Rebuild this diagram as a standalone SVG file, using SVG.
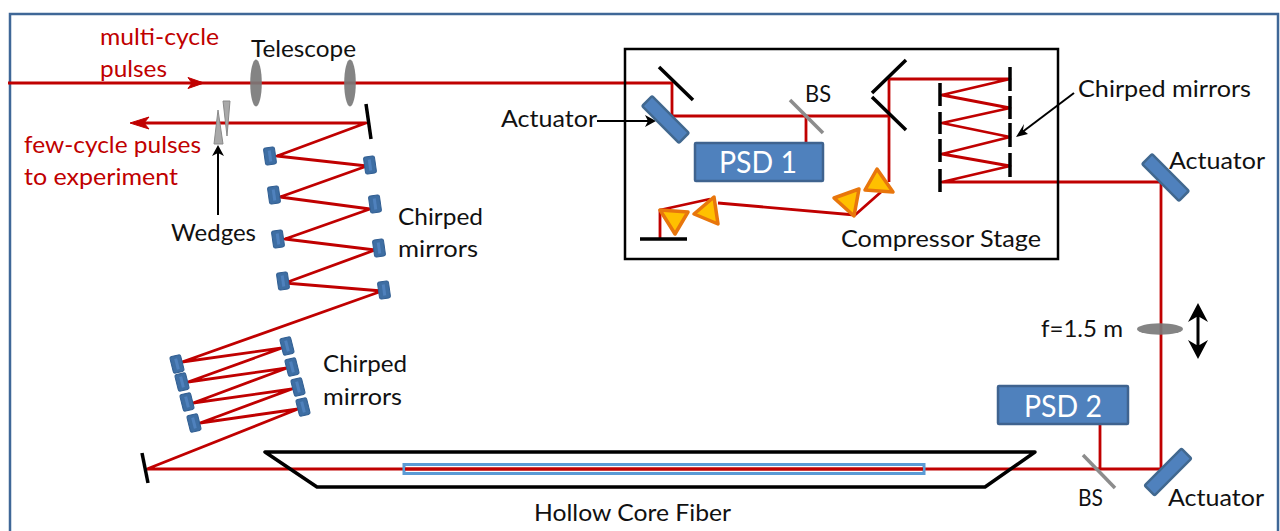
<svg xmlns="http://www.w3.org/2000/svg" width="1280" height="531" viewBox="0 0 1280 531">
<style>
text{font-family:"Lato","Open Sans",sans-serif;font-size:24px;fill:#111}
.r{fill:#c00000}
.w{fill:#fff;font-size:31px}
.beam{fill:none;stroke:#c00000;stroke-width:2.800;stroke-linejoin:round}
.blk{stroke:#000;stroke-width:3.500;fill:none}
.thin{stroke:#000;stroke-width:2;fill:none}
.cm{fill:#3e6ea3;stroke:#2f5d91;stroke-width:1}
.cmi{fill:#4f81bd}
.act{fill:#4f81bd;stroke:#41688f;stroke-width:2.500}
.psd{fill:#4f81bd;stroke:#3f638f;stroke-width:2.500}
.lens{fill:#7a7a7a;fill-opacity:.92}
.pr{fill:#ffc000;stroke:#e8760c;stroke-width:3.500;stroke-linejoin:round}
.wedge{fill:#a9a9a9;stroke:#8a8a8a;stroke-width:1}
.bs{stroke:#8c8c8c;stroke-width:3.500}
</style>
<defs>
<g id="m"><rect class="cm" x="-5.500" y="-8.500" width="11" height="17" rx="2"/><rect class="cmi" x="-1.500" y="-5.500" width="3" height="11"/></g>
</defs>
<rect id="frame" x="10" y="14" width="1268" height="530" fill="#fff" stroke="#3f6797" stroke-width="2.500"/>
<g id="connectors">
<path class="beam" d="M8 83H672V116H889M806 116V143M889 182V79H1010L942 95L1010 108L942 123L1010 137L942 154L1010 166L942 182H1161V469H147L298 409L200 423L292 389L193 403L287 368L188 382L282 348L182 362L382 291L285 283L375 250L285 239L370 209L280 197L367 166L277 156L366 123H140"/>
<path class="beam" d="M881 192L855 215L718 203M710 199L660 210V238M1100 424V469"/>
<path d="M204 83L188 77.500L192 83L188 88.500Z" fill="#c00000" stroke="#c00000"/>
<path d="M130 123L149 117L144 123L149 129Z" fill="#c00000" stroke="#c00000"/>
<path class="thin" d="M218 215V150"/><path d="M218 145L212 156L218 153L224 156Z"/>
<path class="thin" d="M597 121H650"/><path d="M656 121L645 115L648 121L645 127Z"/>
<path class="thin" d="M1074 93L1021 133"/><path d="M1016 137L1028 134L1023 130L1024 124Z"/>
</g>
<g id="telescope"><ellipse class="lens" cx="256" cy="83" rx="5.800" ry="23.500"/><ellipse class="lens" cx="350" cy="83" rx="5.800" ry="23.500"/><text x="251" y="57" textLength="105" lengthAdjust="spacingAndGlyphs">Telescope</text></g>
<g id="wedges"><path class="wedge" d="M218 110L214 144H223Z"/><path class="wedge" d="M223 101H230L227 136Z"/><text x="171" y="241" textLength="85" lengthAdjust="spacingAndGlyphs">Wedges</text></g>
<g id="labels-pulses">
<text class="r" x="100" y="45" textLength="119" lengthAdjust="spacingAndGlyphs">multi-cycle</text>
<text class="r" x="100" y="77" textLength="67" lengthAdjust="spacingAndGlyphs">pulses</text>
<text class="r" x="24" y="153" textLength="177" lengthAdjust="spacingAndGlyphs">few-cycle pulses</text>
<text class="r" x="24" y="185" textLength="154" lengthAdjust="spacingAndGlyphs">to experiment</text>
</g>
<g id="turn-mirror-1"><path class="blk" d="M366 104L371 139"/></g>
<g id="chirped-1">
<use href="#m" transform="translate(270 156) rotate(-8)"/><use href="#m" transform="translate(370 165) rotate(-8)"/>
<use href="#m" transform="translate(274 195) rotate(-8)"/><use href="#m" transform="translate(375 204) rotate(-8)"/>
<use href="#m" transform="translate(278 239) rotate(-8)"/><use href="#m" transform="translate(379 248) rotate(-8)"/>
<use href="#m" transform="translate(283 281) rotate(-8)"/><use href="#m" transform="translate(384 290) rotate(-8)"/>
<text x="398" y="225" textLength="85" lengthAdjust="spacingAndGlyphs">Chirped</text><text x="398" y="257" textLength="80" lengthAdjust="spacingAndGlyphs">mirrors</text>
</g>
<g id="chirped-2">
<use href="#m" transform="translate(177 364) rotate(-14)"/><use href="#m" transform="translate(182 382) rotate(-14)"/>
<use href="#m" transform="translate(187 402) rotate(-14)"/><use href="#m" transform="translate(194 423) rotate(-14)"/>
<use href="#m" transform="translate(287 346) rotate(-14)"/><use href="#m" transform="translate(292 367) rotate(-14)"/>
<use href="#m" transform="translate(298 387) rotate(-14)"/><use href="#m" transform="translate(303 407) rotate(-14)"/>
<text x="323" y="372" textLength="84" lengthAdjust="spacingAndGlyphs">Chirped</text><text x="323" y="405" textLength="79" lengthAdjust="spacingAndGlyphs">mirrors</text>
</g>
<g id="end-mirror"><path class="blk" d="M142 453L148 483"/></g>
<g id="fiber">
<path class="blk" stroke-linejoin="round" d="M265 452H1035L985 487H317Z"/>
<rect x="404" y="464.500" width="520" height="9" fill="none" stroke="#5b9bd5" stroke-width="3"/>
<path d="M405 469H923" stroke="#c00000" stroke-width="2.800"/>
<text x="534" y="521" textLength="197" lengthAdjust="spacingAndGlyphs">Hollow Core Fiber</text>
</g>
<g id="compressor">
<rect x="625" y="49" width="433" height="210" fill="none" stroke="#000" stroke-width="2.500"/>
<path class="blk" d="M659 67L693 100M872 93L906 60M872 97L906 130M640 239H687"/>
<path class="blk" d="M1010 67V91M1010 96V119M1010 123V147M1010 153V177M940 83V106M940 112V134M940 139V162M940 169V192"/>
<path class="pr" d="M877 169L893 192L865 190Z"/><path class="pr" d="M859 189L854 216L834 198Z"/>
<path class="pr" d="M714 197L718 224L694 214Z"/><path class="pr" d="M660 210L688 212L675 234Z"/>
<text x="841" y="247" textLength="200" lengthAdjust="spacingAndGlyphs">Compressor Stage</text>
</g>
<g id="actuator-1"><rect class="act" x="-26" y="-7" width="52" height="14" rx="1.500" transform="translate(665.500 119.500) rotate(45)"/><text x="501" y="127" textLength="96" lengthAdjust="spacingAndGlyphs">Actuator</text></g>
<g id="bs-1"><path class="bs" d="M790 100L823 133"/><text x="805" y="102" textLength="26" lengthAdjust="spacingAndGlyphs">BS</text></g>
<g id="psd-1"><rect class="psd" x="695" y="143" width="128" height="38" rx="1"/><text class="w" x="719" y="173" textLength="78" lengthAdjust="spacingAndGlyphs">PSD 1</text></g>
<g id="chirped-label"><text x="1078" y="97" textLength="173" lengthAdjust="spacingAndGlyphs">Chirped mirrors</text></g>
<g id="actuator-2"><rect class="act" x="-26" y="-7" width="52" height="14" rx="1.500" transform="translate(1165.500 177.500) rotate(45)"/><text x="1169" y="169" textLength="96" lengthAdjust="spacingAndGlyphs">Actuator</text></g>
<g id="lens-f"><ellipse class="lens" cx="1160" cy="329" rx="23" ry="5.800"/><text x="1041" y="337" textLength="82" lengthAdjust="spacingAndGlyphs">f=1.5 m</text>
<path d="M1198 303L1208 322L1199.500 317V345L1208 340L1198 359L1188 340L1196.500 345V317L1188 322Z"/></g>
<g id="psd-2"><rect class="psd" x="998" y="386" width="130" height="38" rx="1"/><text class="w" x="1024" y="417" textLength="78" lengthAdjust="spacingAndGlyphs">PSD 2</text></g>
<g id="bs-2"><path class="bs" d="M1083 455L1115 488"/><text x="1078" y="506" textLength="25" lengthAdjust="spacingAndGlyphs">BS</text></g>
<g id="actuator-3"><rect class="act" x="-26" y="-7" width="52" height="14" rx="1.500" transform="translate(1168 472) rotate(-45)"/><text x="1168" y="506" textLength="96" lengthAdjust="spacingAndGlyphs">Actuator</text></g>
</svg>
